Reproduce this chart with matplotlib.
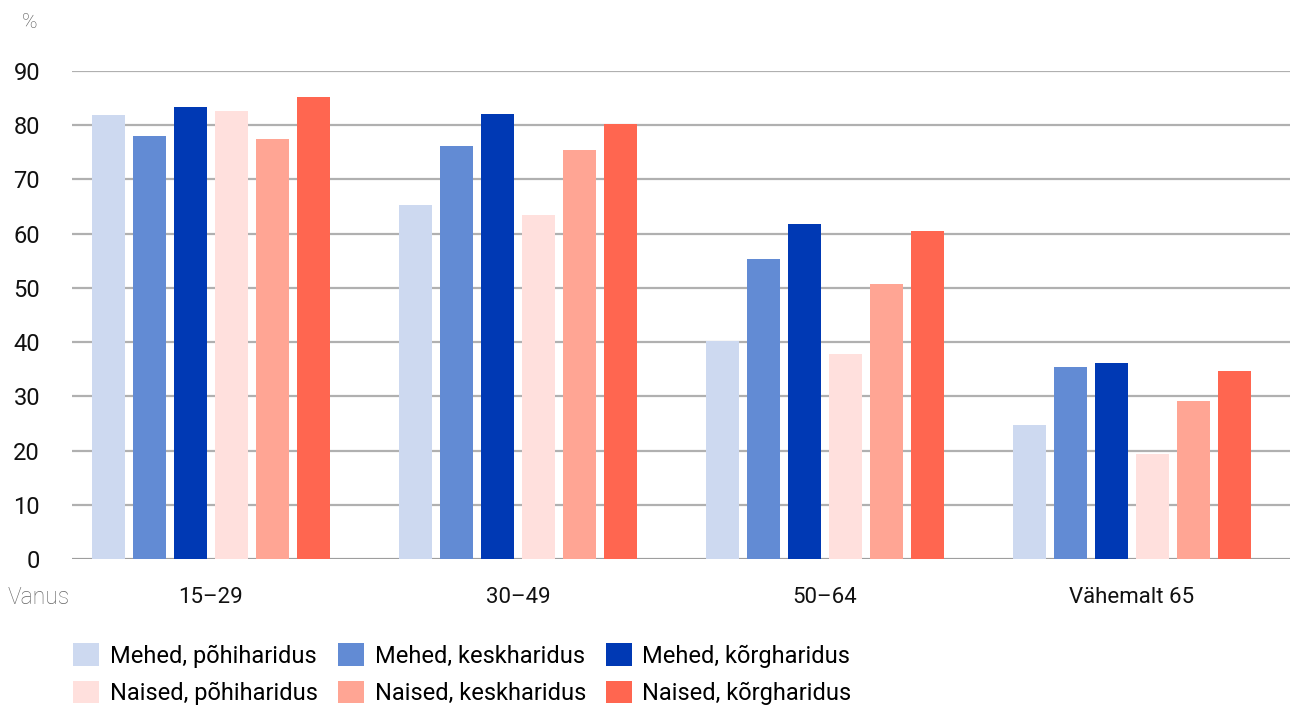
import numpy as np
import matplotlib
matplotlib.use('Agg')
import matplotlib.pyplot as plt

plt.rcParams['font.family'] = ['Roboto', 'DejaVu Sans']

groups = ['15–29', '30–49', '50–64', 'Vähemalt 65']
series = ['Mehed, põhiharidus', 'Mehed, keskharidus', 'Mehed, kõrgharidus',
          'Naised, põhiharidus', 'Naised, keskharidus', 'Naised, kõrgharidus']
colors = ['#cdd9f0', '#628bd4', '#0039b4', '#ffe0dd', '#ffa594', '#ff6650']

mehed_pohi = [81.9, 65.3, 40.2, 24.7]
mehed_kesk = [78.0, 76.1, 55.4, 35.4]
mehed_korg = [83.4, 82.1, 61.8, 36.1]
naised_pohi = [82.7, 63.5, 37.8, 19.4]
naised_kesk = [77.5, 75.4, 50.7, 29.2]
naised_korg = [85.2, 80.3, 60.5, 34.7]
values = [mehed_pohi, mehed_kesk, mehed_korg, naised_pohi, naised_kesk, naised_korg]

fig = plt.figure(figsize=(12.9, 7.05), dpi=100)
ax = fig.add_axes([72 / 1290, 146 / 705, 1 - 72 / 1290, (559 - 71) / 705])

x = np.arange(len(groups))
step = 41 / 307
width = 33 / 307
bars = []
for i, (name, vals) in enumerate(zip(series, values)):
    b = ax.bar(x + (i - 2.5) * step, vals, width, color=colors[i], label=name, zorder=3)
    bars.append(b)

ax.set_xlim(-0.453, 3.516)
ax.set_ylim(0, 90)
ax.set_yticks(range(0, 91, 10))
ax.yaxis.grid(True, color='#b0b0b0', linewidth=1.6, zorder=0)
ax.set_axisbelow(True)
for s in ax.spines.values():
    s.set_visible(False)
ax.axhline(0, color='#999999', linewidth=1.8, zorder=2)
ax.tick_params(axis='both', length=0)
ax.tick_params(axis='y', labelsize=17, pad=23, labelcolor='#111111')
ax.set_xticks(x)
ax.set_xticklabels(groups, fontsize=16, color='#111111')
ax.tick_params(axis='x', pad=20)

fig.text(30 / 1290, 1 - 22 / 705, '%', fontsize=15, color='#555555',
         ha='center', va='center', fontweight='light')
fig.text(8 / 1290, 1 - 598 / 705, 'Vanus', fontsize=16.5, color='#666666',
         ha='left', va='center', fontweight='light')

order = [0, 3, 1, 4, 2, 5]
fig.legend([bars[i] for i in order], [series[i] for i in order],
           loc='upper left', bbox_to_anchor=(64 / 1290, 1 - 634 / 705), ncol=3,
           frameon=False, fontsize=17, handlelength=1.1, handleheight=1.1,
           handletextpad=0.45, columnspacing=0.85, labelspacing=0.55, borderaxespad=0)

fig.savefig('out.png', dpi=100)
